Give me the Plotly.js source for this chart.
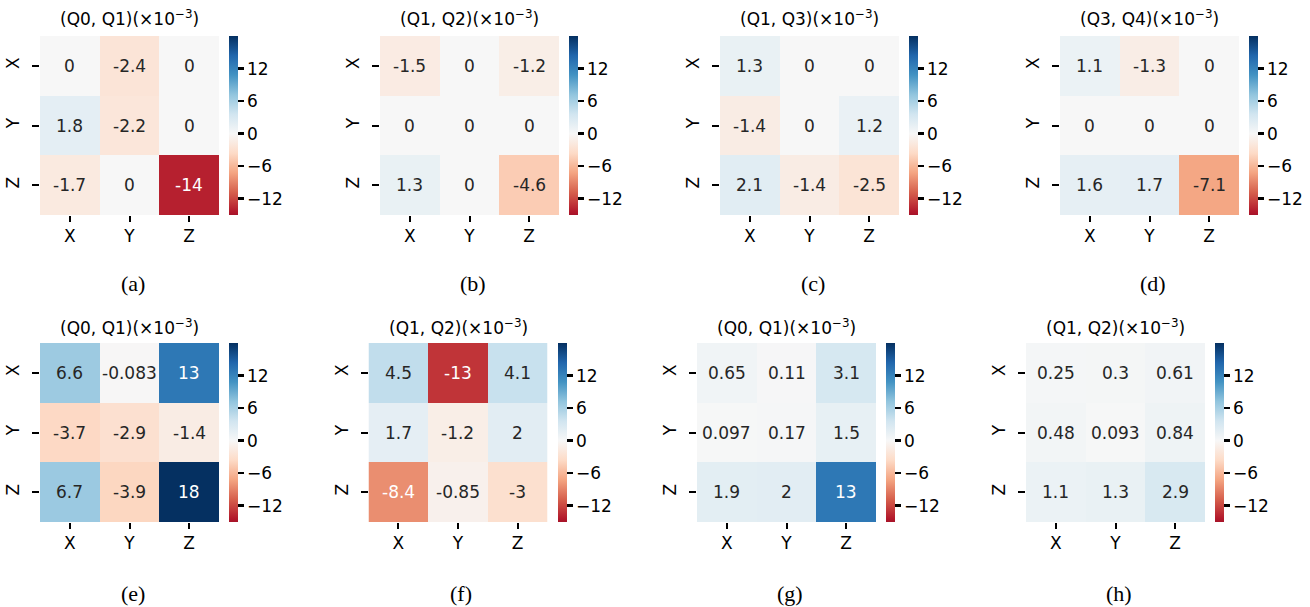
<!DOCTYPE html>
<html><head><meta charset="utf-8">
<script src="https://cdn.plot.ly/plotly-3.0.1.min.js"></script>
<style>html,body{margin:0;padding:0;background:#fff}#chart{width:1310px;height:607px}</style>
</head><body><div id="chart"></div>
<script>
// ---- data ----
const axisLabels = ['X', 'Y', 'Z'];
const panelTitles = ['(Q0, Q1)', '(Q1, Q2)', '(Q1, Q3)', '(Q3, Q4)', '(Q0, Q1)', '(Q1, Q2)', '(Q0, Q1)', '(Q1, Q2)'];
const panelCaptions = ['(a)', '(b)', '(c)', '(d)', '(e)', '(f)', '(g)', '(h)'];
const valuesA = [[0, -2.4, 0], [1.8, -2.2, 0], [-1.7, 0, -14]];
const valuesB = [[-1.5, 0, -1.2], [0, 0, 0], [1.3, 0, -4.6]];
const valuesC = [[1.3, 0, 0], [-1.4, 0, 1.2], [2.1, -1.4, -2.5]];
const valuesD = [[1.1, -1.3, 0], [0, 0, 0], [1.6, 1.7, -7.1]];
const valuesE = [[6.6, -0.083, 13], [-3.7, -2.9, -1.4], [6.7, -3.9, 18]];
const valuesF = [[4.5, -13, 4.1], [1.7, -1.2, 2], [-8.4, -0.85, -3]];
const valuesG = [[0.65, 0.11, 3.1], [0.097, 0.17, 1.5], [1.9, 2, 13]];
const valuesH = [[0.25, 0.3, 0.61], [0.48, 0.093, 0.84], [1.1, 1.3, 2.9]];
const panelValues = [valuesA, valuesB, valuesC, valuesD, valuesE, valuesF, valuesG, valuesH];
const colorbarTicks = [-12, -6, 0, 6, 12];
const zMin = -15, zMax = 18;

// ---- colour map (RdBu_r, centred at 0) ----
const rdbuR = ['#67001f', '#b2182b', '#d6604d', '#f4a582', '#fddbc7', '#f7f7f7', '#d1e5f0', '#92c5de', '#4393c3', '#2166ac', '#053061'];
const hexToRgb = h => [parseInt(h.slice(1, 3), 16), parseInt(h.slice(3, 5), 16), parseInt(h.slice(5, 7), 16)];
function cmapAt(s) {
  s = Math.max(0, Math.min(1, s));
  const f = s * 10, i = Math.min(9, Math.floor(f)), t = f - i;
  const a = hexToRgb(rdbuR[i]), b = hexToRgb(rdbuR[i + 1]);
  return a.map((c, k) => c + (b[k] - c) * t);
}
const vRange = Math.max(Math.abs(zMin), Math.abs(zMax));
const sOf = v => 0.5 + v / (2 * vRange);
const rgbStr = c => 'rgb(' + c.map(x => Math.round(x)).join(',') + ')';
const colorscale = [];
colorscale.push([0, rgbStr(cmapAt(sOf(zMin)))]);
for (let i = 0; i <= 10; i++) {
  const s = i / 10, v = (s - 0.5) * 2 * vRange;
  const p = (v - zMin) / (zMax - zMin);
  if (p > 0 && p < 1) colorscale.push([p, rgbStr(cmapAt(s))]);
}
colorscale.push([1, rgbStr(cmapAt(sOf(zMax)))]);

function luminance(c) {
  const lin = c.map(x => { x /= 255; return x <= 0.03928 ? x / 12.92 : Math.pow((x + 0.055) / 1.055, 2.4); });
  return 0.2126 * lin[0] + 0.7152 * lin[1] + 0.0722 * lin[2];
}
function fmt(v) { return v === 0 ? '0' : String(Number(v.toPrecision(2))); }

// ---- layout geometry (pixels) ----
const W = 1310, H = 607;
const rowLefts = [[40, 380, 720, 1060], [40, 368.5, 697, 1026]];
const rowTops = [36, 343];
const boxW = 179, boxH = 179;
const titleY = [18, 327];
const captionY = [283, 593];
const FONT = 'DejaVu Sans';

const data = [];
const layout = {
  width: W, height: H,
  margin: {l: 0, r: 0, t: 0, b: 0},
  paper_bgcolor: '#fff', plot_bgcolor: '#fff',
  showlegend: false,
  font: {family: FONT, size: 17, color: '#000'},
  annotations: []
};

panelValues.forEach((vals, idx) => {
  const n = idx + 1;
  const row = Math.floor(idx / 4), col = idx % 4;
  const left = rowLefts[row][col], top = rowTops[row];
  const x0 = left / W, x1 = (left + boxW) / W;
  const y1 = 1 - top / H, y0 = 1 - (top + boxH) / H;
  data.push({
    type: 'heatmap',
    x: axisLabels, y: axisLabels, z: vals,
    xaxis: 'x' + n, yaxis: 'y' + n,
    zmin: zMin, zmax: zMax, colorscale: colorscale,
    hoverinfo: 'skip',
    showscale: true,
    colorbar: {
      x: (left + boxW + 10) / W, xanchor: 'left', xpad: 0,
      y: (y0 + y1) / 2, yanchor: 'middle', ypad: 0,
      len: boxH, lenmode: 'pixels',
      thickness: 9, thicknessmode: 'pixels',
      outlinewidth: 0,
      tickvals: colorbarTicks, ticks: 'outside', ticklen: 6, tickwidth: 2.5, tickcolor: '#000',
      tickprefix: '\u00a0',
      tickfont: {family: FONT, size: 17, color: '#000'}
    }
  });
  const axCommon = {
    showgrid: false, zeroline: false, showline: false,
    ticks: 'outside', ticklen: 7, tickwidth: 2, tickcolor: '#000',
    tickfont: {family: FONT, size: 17, color: '#000'},
    fixedrange: true
  };
  layout['xaxis' + n] = Object.assign({}, axCommon, {domain: [x0, x1], anchor: 'y' + n, range: [-0.5, 2.5], type: 'category', ticklen: 6});
  layout['yaxis' + n] = Object.assign({}, axCommon, {domain: [y0, y1], anchor: 'x' + n, range: [2.5, -0.5], type: 'category', tickangle: -90, ticklabelstandoff: 6});
  // cell values
  vals.forEach((r, i) => r.forEach((v, j) => {
    const c = cmapAt(sOf(v));
    layout.annotations.push({
      x: axisLabels[j], y: axisLabels[i], xref: 'x' + n, yref: 'y' + n,
      text: fmt(v), showarrow: false,
      font: {family: FONT, size: 17, color: luminance(c) > 0.408 ? '#262626' : '#ffffff'}
    });
  }));
  // title
  layout.annotations.push({
    x: (left + boxW / 2) / W, y: 1 - titleY[row] / H, xref: 'paper', yref: 'paper',
    xanchor: 'center', yanchor: 'middle', showarrow: false,
    text: panelTitles[idx] + '(×10<sup>−3</sup>)',
    font: {family: FONT, size: 17, color: '#000'}
  });
  // caption
  layout.annotations.push({
    x: (left + boxW / 2 + 3) / W, y: 1 - captionY[row] / H, xref: 'paper', yref: 'paper',
    xanchor: 'center', yanchor: 'middle', showarrow: false,
    text: panelCaptions[idx],
    font: {family: 'Liberation Serif', size: 22, color: '#000'}
  });
});

Plotly.newPlot('chart', data, layout, {staticPlot: true, displayModeBar: false});
</script>
</body></html>
